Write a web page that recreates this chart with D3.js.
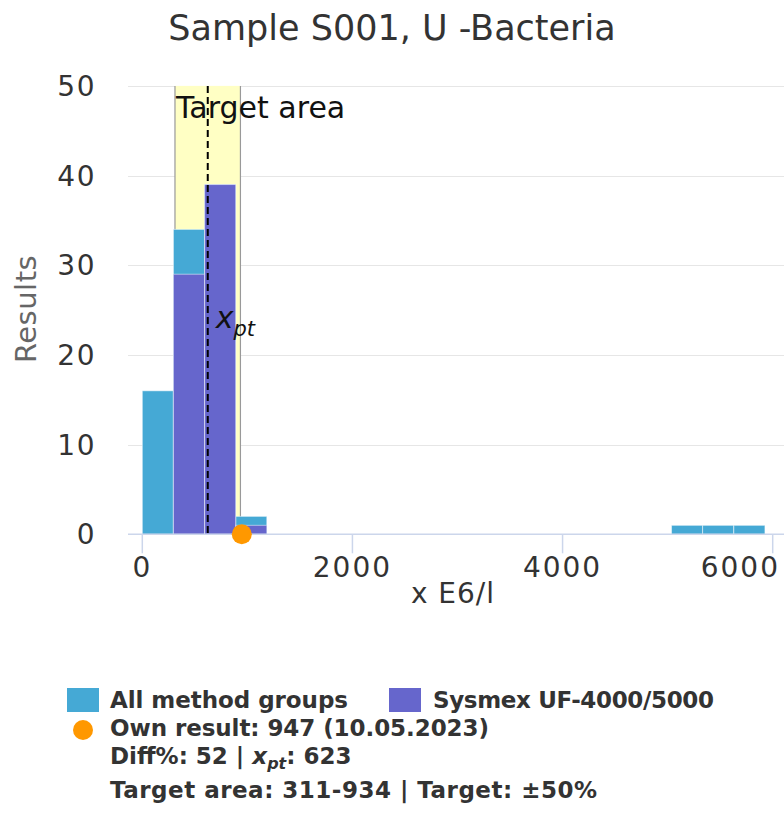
<!DOCTYPE html>
<html>
<head>
<meta charset="utf-8">
<script src="https://cdn.jsdelivr.net/npm/d3@7"></script>
<style>
  html, body { margin: 0; padding: 0; background: #fff; }
  svg { display: block; font-family: "DejaVu Sans", sans-serif; }
</style>
</head>
<body>
<svg id="chart" width="784" height="814"></svg>
<script>
// ---- data ----
const title = "Sample S001, U -Bacteria";
const binStarts = [0, 296, 593, 889, 5037, 5333, 5630];
const binWidth = 296;
const allCounts = [16, 34, 39, 2, 1, 1, 1];
const sysmexCounts = [0, 29, 39, 1, 0, 0, 0];
const seriesNames = ["All method groups", "Sysmex UF-4000/5000"];
const xTicks = [0, 2000, 4000, 6000];
const yTicks = [0, 10, 20, 30, 40, 50];
const ownResult = 947;
const ownDate = "10.05.2023";
const xpt = 623;
const diffPct = 52;
const targetLow = 311;
const targetHigh = 934;
const targetPct = 50;
const xTitle = "x E6/l";
const yTitle = "Results";

// ---- layout ----
const svg = d3.select("#chart");
const W = 784;
const plotLeft = 128, plotRight = 784, plotBottom = 534.3;
const x = d3.scaleLinear().domain([0, 6000]).range([142.3, 772.7]);
const y = d3.scaleLinear().domain([0, 50]).range([plotBottom, 85.9]);

const colAll = "#45a9d5", colSys = "#6666cc", colOwn = "#ff9800";

// title
svg.append("text").attr("x", 392).attr("y", 40).attr("text-anchor", "middle")
  .attr("fill", "#333").style("font-size", "35px").text(title);

// gridlines
svg.append("g").selectAll("line").data(yTicks.filter(d => d > 0)).join("line")
  .attr("x1", plotLeft).attr("x2", plotRight)
  .attr("y1", d => Math.round(y(d)) + 0.5).attr("y2", d => Math.round(y(d)) + 0.5)
  .attr("stroke", "#e6e6e6").attr("stroke-width", 1);

// y tick labels
svg.append("g").selectAll("text").data(yTicks).join("text")
  .attr("x", 96).attr("y", d => y(d) + 10).attr("text-anchor", "end")
  .attr("fill", "#333").style("font-size", "28px").style("letter-spacing", "1.5px").text(d => d);

// y title
svg.append("text").attr("transform", "translate(36,309) rotate(-90)")
  .attr("text-anchor", "middle").attr("fill", "#666").style("font-size", "29px")
  .style("letter-spacing", "0.5px").text(yTitle);

// target area
svg.append("rect").attr("x", x(targetLow)).attr("y", y(50))
  .attr("width", x(targetHigh) - x(targetLow)).attr("height", y(0) - y(50))
  .attr("fill", "#ffffc4");
[targetLow, targetHigh].forEach(v => {
  svg.append("line").attr("x1", x(v)).attr("x2", x(v)).attr("y1", y(50)).attr("y2", y(0))
    .attr("stroke", "#999").attr("stroke-width", 1.2);
});
svg.append("text").attr("x", x(targetLow) + 1).attr("y", 118)
  .attr("fill", "#111").style("font-size", "30px").text("Target area");

// bars
const bins = binStarts.map((s, i) => ({ s, all: allCounts[i], sys: sysmexCounts[i] }));
svg.append("g").selectAll("rect").data(bins).join("rect")
  .attr("x", d => x(d.s)).attr("width", d => x(d.s + binWidth) - x(d.s))
  .attr("y", d => y(d.all)).attr("height", d => y(0) - y(d.all))
  .attr("fill", colAll).attr("stroke", "rgba(255,255,255,0.5)").attr("stroke-width", 1);
svg.append("g").selectAll("rect").data(bins.filter(d => d.sys > 0)).join("rect")
  .attr("x", d => x(d.s)).attr("width", d => x(d.s + binWidth) - x(d.s))
  .attr("y", d => y(d.sys)).attr("height", d => y(0) - y(d.sys))
  .attr("fill", colSys).attr("stroke", "rgba(255,255,255,0.5)").attr("stroke-width", 1);

// x axis line and ticks
svg.append("line").attr("x1", plotLeft).attr("x2", plotRight)
  .attr("y1", plotBottom).attr("y2", plotBottom).attr("stroke", "#ccd6eb").attr("stroke-width", 1.5);
svg.append("g").selectAll("line").data(xTicks).join("line")
  .attr("x1", d => x(d)).attr("x2", d => x(d)).attr("y1", plotBottom).attr("y2", plotBottom + 19)
  .attr("stroke", "#ccd6eb").attr("stroke-width", 1.5);
const xLabels = svg.append("g").selectAll("text").data(xTicks).join("text")
  .attr("x", d => x(d)).attr("y", 577).attr("text-anchor", "middle")
  .attr("fill", "#333").style("font-size", "28px").style("letter-spacing", "2px").text(d => d);
// keep labels inside the chart (shift the last one left like the original)
xLabels.each(function () {
  const bb = this.getBBox();
  const over = bb.x + bb.width - (W - 4);
  if (over > 0) d3.select(this).attr("x", +d3.select(this).attr("x") - over);
});
svg.append("text").attr("x", 453).attr("y", 603).attr("text-anchor", "middle")
  .attr("fill", "#333").style("font-size", "28px").style("letter-spacing", "1px").text(xTitle);

// xpt dashed line
svg.append("line").attr("x1", x(xpt)).attr("x2", x(xpt)).attr("y1", y(50)).attr("y2", y(0))
  .attr("stroke", "#000").attr("stroke-width", 2).attr("stroke-dasharray", "7,4");
const xl = svg.append("text").attr("x", x(xpt) + 8).attr("y", 328).attr("fill", "#111")
  .style("font-style", "italic");
xl.append("tspan").style("font-size", "30px").text("x");
xl.append("tspan").attr("dy", 8).style("font-size", "21px").text("pt");

// own result
svg.append("circle").attr("cx", x(ownResult)).attr("cy", y(0)).attr("r", 10).attr("fill", colOwn);

// legend
const lg = svg.append("g").style("font-weight", "bold").style("font-size", "23px").attr("fill", "#333");
lg.append("rect").attr("x", 67).attr("y", 688).attr("width", 32).attr("height", 24).attr("fill", colAll);
lg.append("text").attr("x", 110).attr("y", 708).attr("textLength", 238).attr("lengthAdjust", "spacing")
  .text(seriesNames[0]);
lg.append("rect").attr("x", 389).attr("y", 688).attr("width", 32).attr("height", 24).attr("fill", colSys);
lg.append("text").attr("x", 433).attr("y", 708).attr("textLength", 281).attr("lengthAdjust", "spacing")
  .text(seriesNames[1]);
lg.append("circle").attr("cx", 83).attr("cy", 730).attr("r", 10).attr("fill", colOwn);
lg.append("text").attr("x", 110).attr("y", 736).attr("textLength", 379).attr("lengthAdjust", "spacing")
  .text(`Own result: ${ownResult} (${ownDate})`);
const l3 = lg.append("text").attr("x", 110).attr("y", 764);
l3.append("tspan").text(`Diff%: ${diffPct} | `);
l3.append("tspan").style("font-style", "italic").text("x");
l3.append("tspan").style("font-style", "italic").style("font-size", "16px").attr("dy", 5).text("pt");
l3.append("tspan").attr("dy", -5).text(`: ${xpt}`);
lg.append("text").attr("x", 110).attr("y", 798).attr("textLength", 487).attr("lengthAdjust", "spacing")
  .text(`Target area: ${targetLow}-${targetHigh} | Target: ±${targetPct}%`);
</script>
</body>
</html>
